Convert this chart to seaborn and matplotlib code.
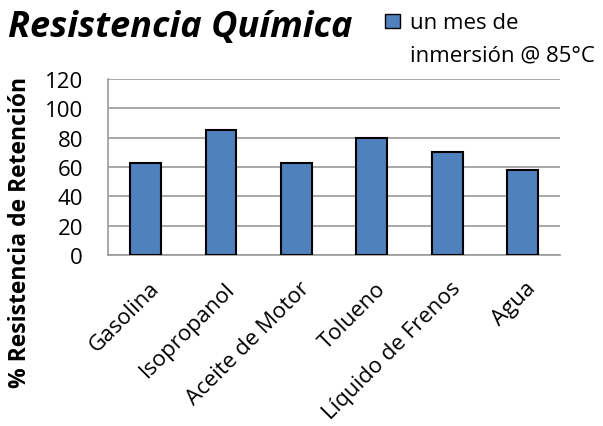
import matplotlib
matplotlib.use("Agg")
import matplotlib.pyplot as plt
import matplotlib.transforms as mtransforms
import seaborn as sns
import pandas as pd
from matplotlib.patches import Patch

categories = ["Gasolina", "Isopropanol", "Aceite de Motor", "Tolueno", "Líquido de Frenos", "Agua"]
values = [63, 85, 63, 80, 70, 58]
series_line1 = "un mes de"
series_line2 = "inmersión @ 85°C"

df = pd.DataFrame({"cat": categories, "val": values})

sns.set_style("white")
plt.rcParams['font.family'] = ['Open Sans', 'DejaVu Sans']
plt.rcParams['text.color'] = 'black'
plt.rcParams['axes.labelcolor'] = 'black'
plt.rcParams['xtick.color'] = 'black'
plt.rcParams['ytick.color'] = 'black'

fig = plt.figure(figsize=(6.03, 4.27), dpi=100)
ax = fig.add_axes([0.179, 0.40, 0.75, 0.413])

sns.barplot(data=df, x="cat", y="val", color="#4F81BD", saturation=1,
            width=0.41, edgecolor="black", linewidth=1.5, ax=ax, zorder=3)

ax.set_ylim(0, 120)
ax.set_yticks(range(0, 121, 20))
ax.yaxis.grid(True, color="#9a9a9a", linewidth=1.2, zorder=0)
ax.set_axisbelow(True)
for s in ["top", "right"]:
    ax.spines[s].set_visible(False)
for s in ["left", "bottom"]:
    ax.spines[s].set_color("#9a9a9a")
    ax.spines[s].set_linewidth(1.2)
ax.tick_params(axis="y", length=0, labelsize=16, pad=18)
ax.tick_params(axis="x", length=0, labelsize=16, pad=6)
ax.set_xticks(range(len(categories)))
ax.set_xticklabels(categories, rotation=45, ha="right", rotation_mode="anchor", fontsize=16)
shift = mtransforms.ScaledTranslation(0.03, -0.14, fig.dpi_scale_trans)
for lab in ax.get_xticklabels():
    lab.set_transform(lab.get_transform() + shift)
ax.set_xlabel("")
ax.set_ylabel("% Resistencia de Retención", fontsize=16.5, fontweight="bold")
ax.yaxis.set_label_coords(-0.168, 0.137)

fig.text(0.013, 0.913, "Resistencia Química", fontsize=26, fontweight="bold",
         fontstyle="italic", va="baseline", ha="left")

handle = Patch(facecolor="#4F81BD", edgecolor="black", linewidth=1)
fig.legend([handle], [series_line1], loc="center left", bbox_to_anchor=(0.638, 0.944),
           frameon=False, fontsize=16, handlelength=0.68, handleheight=0.6,
           handletextpad=0.45, borderpad=0, borderaxespad=0)
fig.text(0.680, 0.857, series_line2, fontsize=16, va="baseline", ha="left")

fig.savefig("out.png", dpi=100)
